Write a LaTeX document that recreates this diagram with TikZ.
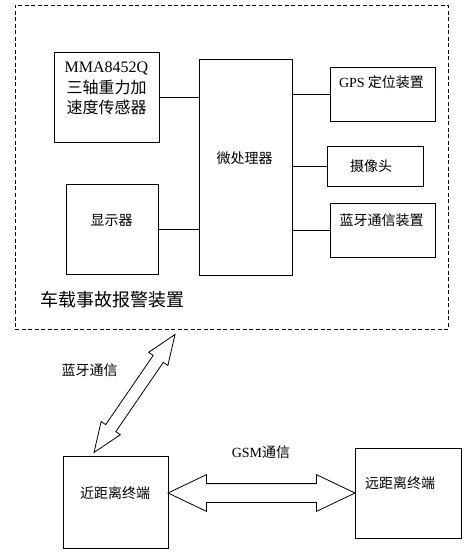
\documentclass[tikz,border=0pt]{standalone}
\usepackage{fontspec}
\setmainfont{Liberation Serif}
\newfontfamily\cjk{Noto Sans CJK SC}
\usetikzlibrary{shapes.arrows,calc}

\begin{document}
\begin{tikzpicture}[
  x=1pt, y=-1pt,
  box/.style={rectangle, draw, line width=0.8pt, inner sep=0pt},
  txt/.style={inner sep=0pt, align=center, font=\fontsize{14}{17}\selectfont\cjk},
  link/.style={line width=0.8pt},
  fat/.style={shape=double arrow, draw, line width=0.8pt, inner xsep=0pt, double arrow head indent=0pt},
]
\useasboundingbox (0,0) rectangle (474,551);

% dashed frame of the on-board unit
\node[box, dash pattern=on 4pt off 2.5pt, minimum width=433pt, minimum height=324pt] (car) at (231.5,167) {};

% boxes inside the frame
\node[box, minimum width=105pt, minimum height=90pt] (mma) at (106.5,97) {};
\node[box, minimum width=92pt, minimum height=90pt] (disp) at (112,229) {};
\node[box, minimum width=93pt, minimum height=216pt] (mcu) at (245.5,167) {};
\node[box, minimum width=105pt, minimum height=54pt] (gps) at (382.5,94) {};
\node[box, minimum width=96pt, minimum height=40pt] (cam) at (375,166) {};
\node[box, minimum width=105pt, minimum height=54pt] (blue) at (382.5,230) {};

% terminals
\node[box, minimum width=105pt, minimum height=92pt] (near) at (115.5,502) {};
\node[box, minimum width=106pt, minimum height=90pt] (far) at (408,493) {};

% texts
\node[txt, font=\fontsize{16}{20.5}\selectfont\cjk] (mmatxt) at (106.5,88.5) {{\rmfamily MMA8452Q}\\三轴重力加\\速度传感器};
\node[txt] (disptxt) at (111.5,220) {显示器};
\node[txt] (mcutxt) at (244.5,158) {微处理器};
\node[txt] (gpstxt) at (381.5,82) {{\rmfamily GPS} 定位装置};
\node[txt] (camtxt) at (371,166) {摄像头};
\node[txt] (bluetxt) at (381.5,220) {蓝牙通信装置};
\node[txt, font=\fontsize{18}{21}\selectfont\cjk] (cartxt) at (112.5,300) {车载事故报警装置};
\node[txt] (neartxt) at (115,493) {近距离终端};
\node[txt] (fartxt) at (400,483) {远距离终端};
\node[txt] (bttxt) at (89.5,370) {蓝牙通信};
\node[txt] (gsmtxt) at (261,452) {{\rmfamily GSM}通信};

% wires to the microprocessor
\draw[link] (mma.east) -- (mma.east -| mcu.west);
\draw[link] (disp.east) -- (disp.east -| mcu.west);
\draw[link] (gps.west) -- (gps.west -| mcu.east);
\draw[link] (cam.west) -- (cam.west -| mcu.east);
\draw[link] (blue.west) -- (blue.west -| mcu.east);

% wide double arrows
\coordinate (btlow) at (94,452.5);
\coordinate (bthigh) at (175,334.5);
\path let \p1=($(bthigh)-(btlow)$), \n1={atan2(\y1,\x1)}, \n2={veclen(\x1,\y1)} in
  node[fat, rotate=\n1, minimum height=\n2, inner ysep=5.75pt, double arrow head extend=5.5pt, double arrow tip angle=43] (bt) at ($(btlow)!0.5!(bthigh)$) {};
\node[fat, minimum height=187pt, inner ysep=9pt, double arrow head extend=9pt, double arrow tip angle=51] (gsm) at ($(near.east |- far.west)!0.5!(far.west)$) {};
\end{tikzpicture}
\end{document}
